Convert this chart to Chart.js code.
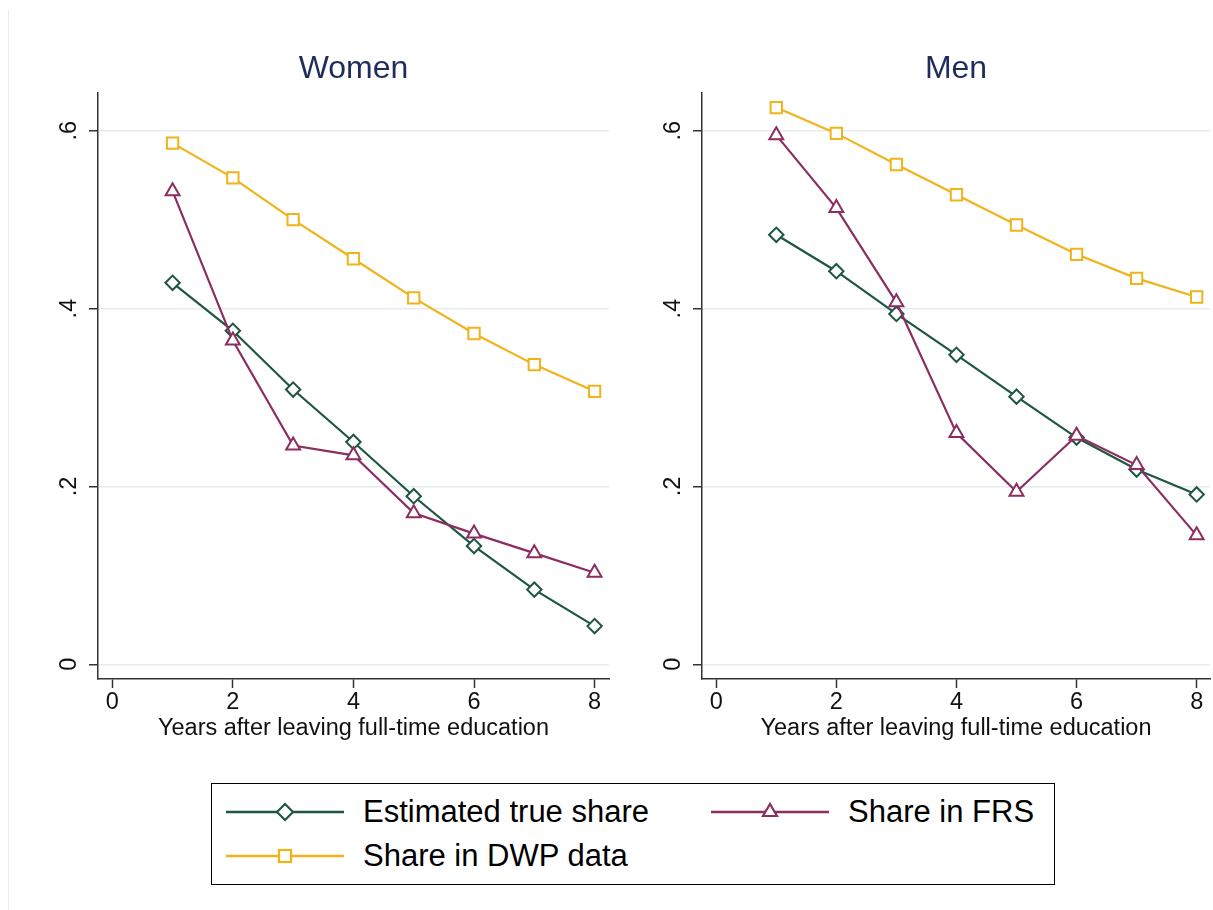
<!DOCTYPE html>
<html>
<head>
<meta charset="utf-8">
<script src="https://cdn.jsdelivr.net/npm/chart.js@4.4.0/dist/chart.umd.min.js"></script>
<style>
    body { margin: 0; background: #fff; width: 1213px; height: 910px; overflow: hidden; position: relative;
           font-family: "Liberation Sans", Arial, sans-serif; }
    #edge { position: absolute; left: 8px; top: 10px; width: 1px; height: 900px; background: #e9efef; }
    #cw { position: absolute; left: 0; top: 0; }
    #cm { position: absolute; left: 604px; top: 0; }
    #legend { position: absolute; left: 211px; top: 783px; width: 844px; height: 102px; box-sizing: border-box;
              border: 1.5px solid #000; }
    .sym { position: absolute; }
    .lab { position: absolute; font-size: 31px; line-height: 36px; color: #000; white-space: nowrap; }
</style>
</head>
<body>
<div id="edge"></div>
<canvas id="cw" width="619" height="760"></canvas>
<canvas id="cm" width="616" height="760"></canvas>
<div id="legend"></div>

<script>
// Values
const years = [1, 2, 3, 4, 5, 6, 7, 8];
const womenTrue = [0.429, 0.375, 0.309, 0.250, 0.189, 0.133, 0.084, 0.043];
const womenFRS  = [0.532, 0.364, 0.246, 0.235, 0.170, 0.147, 0.125, 0.103];
const womenDWP  = [0.586, 0.547, 0.500, 0.456, 0.412, 0.372, 0.337, 0.307];
const menTrue = [0.483, 0.442, 0.394, 0.348, 0.301, 0.255, 0.219, 0.191];
const menFRS  = [0.595, 0.513, 0.407, 0.260, 0.194, 0.257, 0.224, 0.145];
const menDWP  = [0.626, 0.597, 0.562, 0.528, 0.494, 0.461, 0.434, 0.413];

const xTicks = [0, 2, 4, 6, 8];
const yTicks = [0, 0.2, 0.4, 0.6];
const yTickLabels = ['0', '.2', '.4', '.6'];
const seriesNames = ['Estimated true share', 'Share in FRS', 'Share in DWP data'];
const panelTitles = ['Women', 'Men'];
const xTitle = 'Years after leaving full-time education';

const GREEN = '#1e5641';
const PURPLE = '#8c2d5f';
const ORANGE = '#f0b31a';
const FONT = '"Liberation Sans", Arial, sans-serif';

function series(label, vals, color, style, radius, order) {
    return {
        label: label,
        data: years.map((x, i) => ({ x: x, y: vals[i] })),
        borderColor: color,
        borderWidth: 2.2,
        pointStyle: style,
        pointRadius: radius,
        pointBorderWidth: 2,
        pointBorderColor: color,
        pointBackgroundColor: '#fff',
        order: order
    };
}

function makePanel(id, title, trueVals, frsVals, dwpVals, xMax, padRight) {
    new Chart(document.getElementById(id), {
        type: 'line',
        data: {
            datasets: [
                series(seriesNames[0], trueVals, GREEN, 'rectRot', 7.2, 3),
                series(seriesNames[1], frsVals, PURPLE, 'triangle', 8, 2),
                series(seriesNames[2], dwpVals, ORANGE, 'rect', 8, 1)
            ]
        },
        options: {
            responsive: false,
            animation: false,
            layout: { padding: { left: 0, right: padRight, top: 0, bottom: 0 } },
            plugins: {
                legend: { display: false },
                tooltip: { enabled: false },
                title: {
                    display: true,
                    fullSize: false,
                    text: title,
                    color: '#1e2d5c',
                    font: { family: FONT, size: 32, weight: 'normal' },
                    padding: { top: 49.5, bottom: 5.1 }
                }
            },
            scales: {
                x: {
                    type: 'linear',
                    min: -0.237,
                    max: xMax,
                    afterBuildTicks: s => { s.ticks = xTicks.map(v => ({ value: v })); },
                    afterFit: s => { s.height = 81; },
                    border: { color: '#333', width: 1.5 },
                    grid: { drawOnChartArea: false, tickLength: 9, tickColor: '#333', tickWidth: 1.5 },
                    ticks: { color: '#111', padding: 0, maxRotation: 0,
                             font: { family: FONT, size: 23.5 } },
                    title: { display: true, text: xTitle, color: '#111',
                             font: { family: FONT, size: 23.5 },
                             padding: { top: 0, bottom: 17 } }
                },
                y: {
                    type: 'linear',
                    min: -0.0165,
                    max: 0.6424,
                    afterBuildTicks: s => { s.ticks = yTicks.map(v => ({ value: v })); },
                    afterFit: s => { s.width = 98; },
                    border: { color: '#333', width: 1.5 },
                    grid: { color: '#e4ecef', lineWidth: 1.5, tickLength: 9, tickColor: '#333', tickWidth: 1.5 },
                    ticks: {
                        color: '#111',
                        minRotation: 90,
                        maxRotation: 90,
                        crossAlign: 'center',
                        padding: 10,
                        font: { family: FONT, size: 23.5 },
                        callback: v => {
                            const i = yTicks.findIndex(t => Math.abs(t - v) < 1e-9);
                            return i >= 0 ? yTickLabels[i] : '';
                        }
                    }
                }
            }
        }
    });
}

makePanel('cw', panelTitles[0], womenTrue, womenFRS, womenDWP, 8.239, 3);
makePanel('cm', panelTitles[1], menTrue, menFRS, menDWP, 8.222, 1);

// Legend (shared by both panels)
function symbolSVG(color, shape) {
    let mark = '';
    if (shape === 'diamond') {
        mark = `<polygon points="59,2 67,10 59,18 51,10" fill="#fff" stroke="${color}" stroke-width="2.2"/>`;
    } else if (shape === 'triangle') {
        mark = `<polygon points="59,2 66,14 52,14" fill="#fff" stroke="${color}" stroke-width="2.2"/>`;
    } else {
        mark = `<rect x="53" y="4" width="12" height="12" fill="#fff" stroke="${color}" stroke-width="2.2"/>`;
    }
    return `<svg width="118" height="20"><line x1="0" y1="10" x2="118" y2="10" stroke="${color}" stroke-width="2.6"/>${mark}</svg>`;
}

const legendItems = [
    { name: seriesNames[0], color: GREEN, shape: 'diamond', x: 14, y: 29 },
    { name: seriesNames[1], color: PURPLE, shape: 'triangle', x: 499, y: 29 },
    { name: seriesNames[2], color: ORANGE, shape: 'square', x: 14, y: 73 }
];
const legendDiv = document.getElementById('legend');
legendItems.forEach(it => {
    legendDiv.innerHTML += `
        <div class="sym" style="left:${it.x}px;top:${it.y - 11.5}px">${symbolSVG(it.color, it.shape)}</div>
        <div class="lab" style="left:${it.x + 137}px;top:${it.y - 19.5}px">${it.name}</div>
    `;
});
</script>
</body>
</html>
